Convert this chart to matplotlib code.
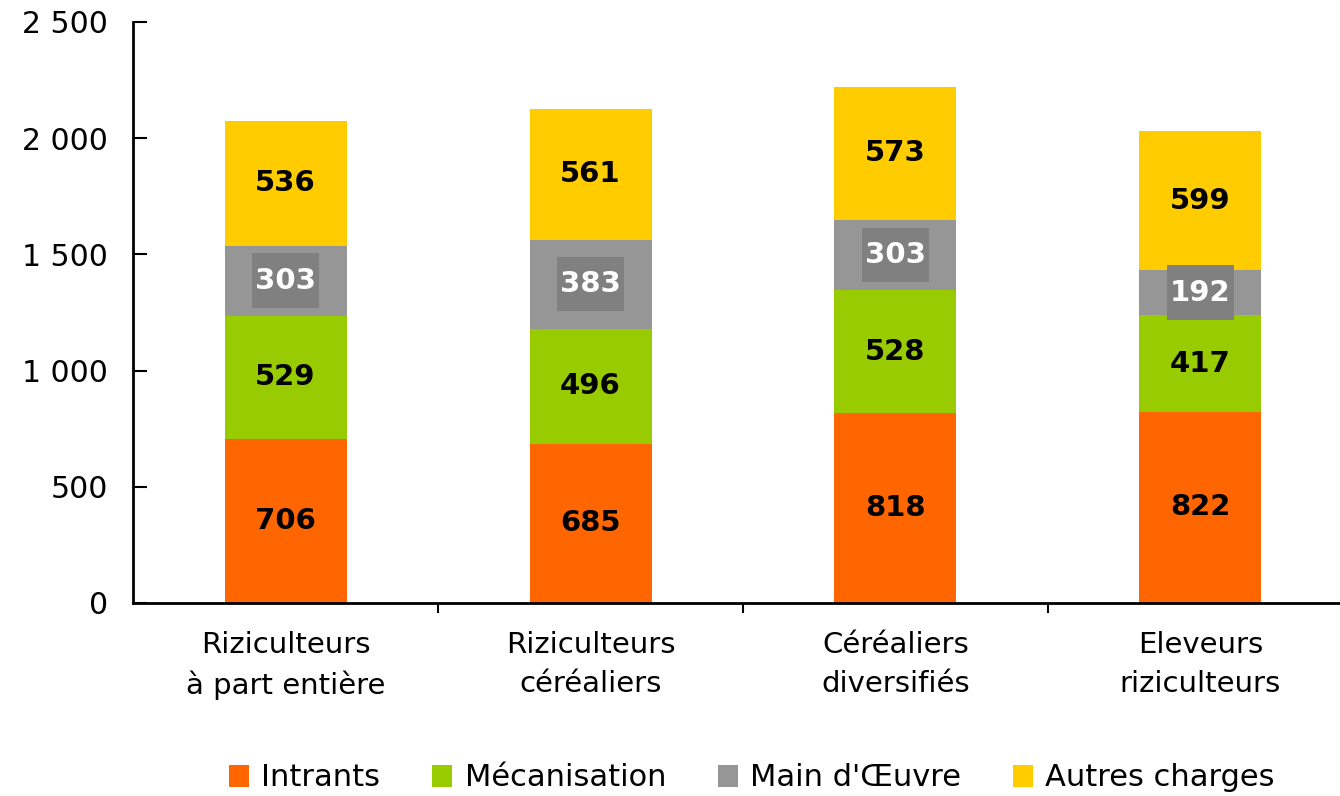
import matplotlib.pyplot as plt
from matplotlib.patches import Rectangle
import numpy as np

plt.rcParams['font.family'] = ['DejaVu Sans']

# données
categories = ['Riziculteurs\nà part entière', 'Riziculteurs\ncéréaliers',
              'Céréaliers\ndiversifiés', 'Eleveurs\nriziculteurs']
intrants = [706, 685, 818, 822]
mecanisation = [529, 496, 528, 417]
main_oeuvre = [303, 383, 303, 192]
autres = [536, 561, 573, 599]

series = [
    ('Intrants', intrants, '#FF6600'),
    ('Mécanisation', mecanisation, '#99CC00'),
    ("Main d'Œuvre", main_oeuvre, '#969696'),
    ('Autres charges', autres, '#FFCC00'),
]

fig = plt.figure(figsize=(13.4, 7.96), dpi=100)
ax = fig.add_axes([133 / 1340, 1 - 603 / 796, 1220 / 1340, 581 / 796])

x = np.arange(len(categories))
bottom = np.zeros(len(categories))
for name, vals, color in series:
    vals = np.array(vals, dtype=float)
    ax.bar(x, vals, 0.4, bottom=bottom, color=color, label=name, zorder=2)
    for xi, b, v in zip(x, bottom, vals):
        mid = b + v / 2
        if name == "Main d'Œuvre":
            # boîte gris foncé de taille fixe derrière l'étiquette
            ax.add_patch(Rectangle((xi - 0.11, mid - 118), 0.22, 236,
                                   fc='#808080', ec='none', zorder=3))
            ax.text(xi, mid, f'{int(v)}', ha='center', va='center',
                    fontsize=21, fontweight='bold', color='white', zorder=4)
        else:
            ax.text(xi, mid, f'{int(v)}', ha='center', va='center',
                    fontsize=21, fontweight='bold', color='black', zorder=4)
    bottom += vals

ax.set_xlim(-0.5, 3.5)
ax.set_ylim(0, 2500)
ax.set_yticks([0, 500, 1000, 1500, 2000, 2500])
ax.set_yticklabels(['0', '500', '1 000', '1 500', '2 000', '2 500'], fontsize=21.5)
ax.set_xticks(x)
ax.set_xticklabels(categories, fontsize=21, linespacing=1.5)
ax.tick_params(axis='x', length=0, pad=20)
ax.set_xticks([0.5, 1.5, 2.5], minor=True)
ax.tick_params(axis='x', which='minor', length=7, width=1.5, direction='out')
ax.tick_params(axis='y', length=10, width=1.5, direction='in', pad=18)

ax.spines['top'].set_visible(False)
ax.spines['right'].set_visible(False)
ax.spines['left'].set_linewidth(2)
ax.spines['bottom'].set_linewidth(2)

fig.legend(loc='center', bbox_to_anchor=(752 / 1340, 1 - 778 / 796), ncol=4,
           frameon=False, fontsize=22, handlelength=0.65, handleheight=0.7,
           handletextpad=0.4, columnspacing=1.7)

fig.savefig('out.png', dpi=100)
